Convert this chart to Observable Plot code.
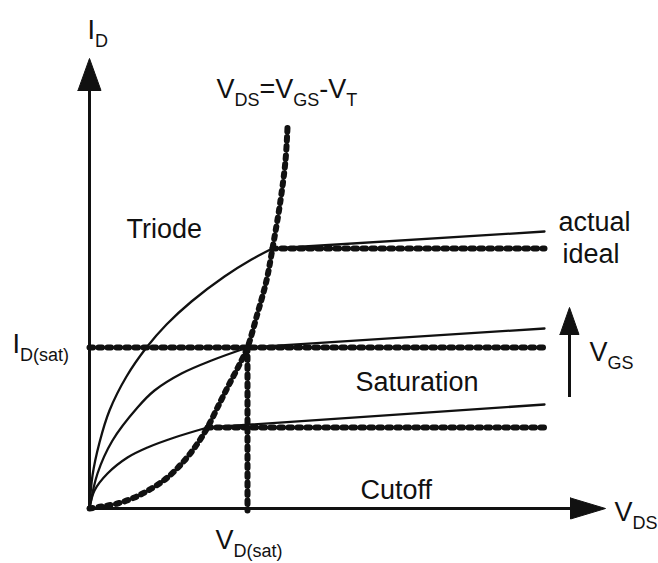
<!DOCTYPE html>
<html>
<head>
<meta charset="utf-8">
<script src="https://cdn.jsdelivr.net/npm/d3@7"></script>
<script src="https://cdn.jsdelivr.net/npm/@observablehq/plot@0.6"></script>
<style>
  html, body { margin: 0; padding: 0; background: #fff; }
  #chart svg { display: block; }
</style>
</head>
<body>
<div id="chart"></div>
<script>
// MOSFET output characteristics: drain current I_D versus drain-source voltage V_DS
// for three gate voltages, with the triode / saturation boundary V_DS = V_GS - V_T.

// Boundary parabola V_DS = V_GS - V_T
const boundaryVds = [0, 0.24, 0.56, 0.9, 1.24, 1.56, 1.9, 2.16, 2.36, 2.56, 2.76, 3.04, 3.16, 3.36, 3.54, 3.66, 3.82, 3.92, 3.96];
const boundaryId  = [0, 0.04, 0.1, 0.22, 0.4, 0.62, 0.96, 1.3, 1.62, 2.02, 2.42, 2.96, 3.22, 3.9, 4.56, 5.2, 6.16, 6.96, 7.62];

// Triode-region curves, lowest to highest V_GS
const triodeLowVds  = [0, 0.1, 0.36, 0.76, 1.16, 1.7, 2.36];
const triodeLowId   = [0, 0.36, 0.7, 1.02, 1.22, 1.42, 1.62];
const triodeMidVds  = [0, 0.16, 0.46, 0.96, 1.3, 1.84, 2.44, 3.16];
const triodeMidId   = [0, 0.7, 1.36, 2.02, 2.36, 2.7, 2.96, 3.22];
const triodeHighVds = [0, 0.06, 0.2, 0.4, 0.74, 1.14, 1.54, 2.04, 2.7, 3.24, 3.66];
const triodeHighId  = [0, 0.66, 1.32, 1.96, 2.64, 3.22, 3.68, 4.14, 4.64, 4.98, 5.2];

// Saturation knees (V_D(sat), I_D(sat)) and the end of the drawn range
const kneeVds = [2.36, 3.16, 3.66];
const kneeId  = [1.62, 3.22, 5.2];
const idealStartVds = [2.36, 0, 3.66];   // middle ideal line runs back to the I_D axis as I_D(sat)
const endVds = 9.1;
const actualEndId = [2.08, 3.6, 5.54];   // channel-length modulation slope

// Axis extents
const vdsAxisEnd = 10.32;
const idAxisEnd = 9.0;
const vgsArrow = {x: 9.6, from: 2.22, to: 4.02};

// Text labels (markup: _{...} is a subscript) and their anchor points (left, baseline)
const labelText = ["I_{D}", "V_{DS}=V_{GS}-V_{T}", "Triode", "actual", "ideal",
                   "I_{D(sat)}", "V_{GS}", "Saturation", "Cutoff", "V_{DS}", "V_{D(sat)}"];
const labelX = [-0.04, 2.54, 0.74, 9.38, 9.46, -1.54, 10.0, 5.32, 5.42, 10.5, 2.52];
const labelY = [9.4, 8.22, 5.42, 5.56, 4.92, 3.12, 2.96, 2.36, 0.2, -0.24, -0.8];

const pts = (xs, ys, id) => xs.map((x, i) => ({x, y: ys[i], id}));

const boundary = pts(boundaryVds, boundaryId, "b");
const triode = [
  ...pts(triodeLowVds, triodeLowId, "low"),
  ...pts(triodeMidVds, triodeMidId, "mid"),
  ...pts(triodeHighVds, triodeHighId, "high")
];
const ideal = kneeId.flatMap((id, i) => [
  {x: idealStartVds[i], y: id, k: i},
  {x: endVds, y: id, k: i}
]);
const actual = kneeId.flatMap((id, i) => [
  {x: kneeVds[i], y: id, k: i},
  {x: endVds, y: actualEndId[i], k: i}
]);
const vdsat = [{x: kneeVds[1], y: kneeId[1]}, {x: kneeVds[1], y: -0.04}];

// Filled triangular arrowheads: tip point, unit direction, length and half-width
function head(tx, ty, dx, dy, len, half, k) {
  const bx = tx - dx * len, by = ty - dy * len;
  return [
    {x: bx - dy * half, y: by + dx * half, k},
    {x: tx, y: ty, k},
    {x: bx + dy * half, y: by - dx * half, k},
    {x: bx - dy * half, y: by + dx * half, k}
  ];
}
const heads = [
  ...head(vdsAxisEnd, 0, 1, 0, 0.7, 0.21, "x"),
  ...head(0, idAxisEnd, 0, 1, 0.64, 0.23, "y"),
  ...head(vgsArrow.x, vgsArrow.to, 0, 1, 0.54, 0.19, "v")
];

const labels = labelText.map((t, i) => ({t, x: labelX[i], y: labelY[i]}));

const beads = {stroke: "#111", strokeWidth: 6, strokeDasharray: "3.5 5.5", strokeLinecap: "round"};

const chart = Plot.plot({
  width: 658,
  height: 563,
  margin: 0,
  x: {domain: [-1.78, 11.38], axis: null},
  y: {domain: [-1.1, 10.16], axis: null},
  style: {fontFamily: "'Liberation Sans', Arial, sans-serif", background: "#fff", color: "#111"},
  marks: [
    // axes
    Plot.ruleY([0], {x1: 0, x2: vdsAxisEnd - 0.3, stroke: "#111", strokeWidth: 3}),
    Plot.ruleX([0], {y1: 0, y2: idAxisEnd - 0.3, stroke: "#111", strokeWidth: 3}),
    Plot.ruleX([vgsArrow.x], {y1: vgsArrow.from, y2: vgsArrow.to - 0.3, stroke: "#111", strokeWidth: 3}),
    Plot.line(heads, {x: "x", y: "y", z: "k", fill: "#111", stroke: "#111", strokeWidth: 1}),
    // triode curves and actual saturation lines
    Plot.line(triode, {x: "x", y: "y", z: "id", curve: "catmull-rom", stroke: "#111", strokeWidth: 2.3}),
    Plot.line(actual, {x: "x", y: "y", z: "k", stroke: "#111", strokeWidth: 2.3}),
    // ideal (flat) saturation lines, boundary parabola, V_D(sat) drop line
    Plot.line(ideal, {x: "x", y: "y", z: "k", ...beads}),
    Plot.line(boundary, {x: "x", y: "y", curve: "catmull-rom", ...beads}),
    Plot.line(vdsat, {x: "x", y: "y", ...beads}),
    // labels
    Plot.text(labels, {x: "x", y: "y", text: "t", textAnchor: "start", lineAnchor: "bottom",
                       fontSize: 27, fill: "#111"})
  ]
});

// Turn _{...} markup into subscript tspans
const SUB_SIZE = 18, SUB_SHIFT = 8;
d3.select(chart).selectAll("text").each(function () {
  const s = this.textContent;
  if (!s.includes("_{")) return;
  const parts = [];
  const re = /_\{([^}]*)\}|([^_]+)/g;
  let m;
  while ((m = re.exec(s))) parts.push(m[1] !== undefined ? {t: m[1], sub: true} : {t: m[2], sub: false});
  const el = d3.select(this);
  el.text(null);
  let shifted = false;
  for (const p of parts) {
    const ts = el.append("tspan").text(p.t);
    if (p.sub) {
      ts.attr("font-size", SUB_SIZE);
      if (!shifted) { ts.attr("dy", SUB_SHIFT); shifted = true; }
    } else if (shifted) {
      ts.attr("dy", -SUB_SHIFT); shifted = false;
    }
  }
});

document.getElementById("chart").appendChild(chart);
</script>
</body>
</html>
